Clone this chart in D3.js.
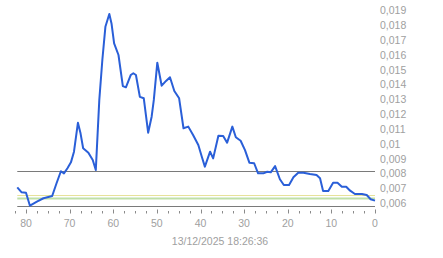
<!DOCTYPE html>
<html>
<head>
<meta charset="utf-8">
<script src="https://cdn.jsdelivr.net/npm/d3@7"></script>
<style>
  html, body { margin: 0; padding: 0; background: #fff; }
  svg { display: block; }
</style>
</head>
<body>
<div id="chart"></div>
<script>
(function(){
  var width = 443;
  var height = 258;

  // seconds before the timestamp, and the measured value at that moment
  var secondsAgo = [82.0, 81.0, 80.0, 79.1, 77.5, 76.0, 74.0, 73.0, 72.0, 71.3,
    70.5, 69.7, 69.0, 68.1, 67.5, 66.9, 65.7, 64.7, 64.0, 63.2,
    62.5, 61.8, 60.9, 60.4, 59.8, 58.8, 57.8, 57.1, 56.0, 55.4,
    54.8, 53.9, 53.0, 52.0, 51.2, 50.7, 49.9, 48.9, 47.9, 47.0,
    46.0, 44.9, 43.9, 42.8, 41.7, 40.5, 39.7, 39.0, 37.8, 37.1,
    35.9, 34.8, 33.9, 32.7, 31.9, 30.8, 29.8, 28.8, 27.7, 26.8,
    25.6, 24.7, 23.9, 22.9, 21.8, 20.9, 19.7, 18.7, 17.6, 16.4,
    14.9, 13.4, 12.6, 11.9, 10.7, 9.6, 8.6, 7.6, 6.6, 5.7,
    4.6, 3.0, 1.9, 1.0, 0.0];
  var values = [0.00708, 0.00674, 0.00671, 0.00584, 0.00611, 0.00634, 0.00649, 0.00735, 0.00816, 0.00802,
    0.00836, 0.00876, 0.00948, 0.01143, 0.01072, 0.00971, 0.00941, 0.00892, 0.00824, 0.01296,
    0.01566, 0.0179, 0.01876, 0.01813, 0.01678, 0.016, 0.0139, 0.01382, 0.01465, 0.01477,
    0.01465, 0.01318, 0.01308, 0.01076, 0.01184, 0.01297, 0.01548, 0.01393, 0.01425, 0.0145,
    0.01357, 0.01308, 0.01106, 0.01117, 0.0106, 0.00993, 0.00914, 0.00847, 0.00948, 0.00903,
    0.01056, 0.01054, 0.01009, 0.01117, 0.01045, 0.01022, 0.00959, 0.00874, 0.0087, 0.00802,
    0.00802, 0.00813, 0.00809, 0.00851, 0.00762, 0.00723, 0.00723, 0.00775, 0.00806, 0.00806,
    0.00797, 0.00791, 0.00769, 0.00683, 0.00683, 0.00739, 0.00739, 0.00712, 0.00712, 0.00685,
    0.00663, 0.00663, 0.00656, 0.00627, 0.00618];

  // reference levels drawn across the plot
  var levelValues = [0.00821, 0.00656, 0.00639, 0.00585];
  var levelColors = ['#7a7a7a', '#e6e29a', '#bfe0a8', '#7a7a7a'];
  var levelWidths = [1, 1, 2, 1];

  var yTickValues = [0.006, 0.007, 0.008, 0.009, 0.010, 0.011, 0.012, 0.013,
    0.014, 0.015, 0.016, 0.017, 0.018, 0.019];
  var yTickLabels = ['0,006', '0,007', '0,008', '0,009', '0,01', '0,011', '0,012', '0,013',
    '0,014', '0,015', '0,016', '0,017', '0,018', '0,019'];
  var xTickValues = [80, 70, 60, 50, 40, 30, 20, 10, 0];
  var xMinorTicks = d3.range(0, 83, 2.5);
  var timestamp = '13/12/2025 18:26:36';

  var x = d3.scaleLinear().domain([0, 80]).range([375, 26]);
  var y = d3.scaleLinear().domain([0.006, 0.019]).range([203.3, 10.5]);

  var svg = d3.select('#chart').append('svg')
                .attr('width', width)
                .attr('height', height);

  var font = '"Liberation Sans", Arial, sans-serif';

  // horizontal level lines
  svg.selectAll('line.level')
      .data(levelValues)
      .enter()
      .append('line')
        .attr('class', 'level')
        .attr('x1', x(82))
        .attr('x2', x(0))
        .attr('y1', function(d){ return Math.round(y(d)) + 0.5; })
        .attr('y2', function(d){ return Math.round(y(d)) + 0.5; })
        .attr('stroke', function(d, i){ return levelColors[i]; })
        .attr('stroke-width', function(d, i){ return levelWidths[i]; });

  // the series
  var line = d3.line()
      .x(function(d, i){ return x(secondsAgo[i]); })
      .y(function(d){ return y(d); });

  svg.append('path')
      .datum(values)
      .attr('d', line)
      .attr('fill', 'none')
      .attr('stroke', '#2a5fd8')
      .attr('stroke-width', 2)
      .attr('stroke-linejoin', 'round');

  // x ticks
  svg.selectAll('line.minor')
      .data(xMinorTicks)
      .enter()
      .append('line')
        .attr('class', 'minor')
        .attr('x1', function(d){ return Math.round(x(d)) + 0.5; })
        .attr('x2', function(d){ return Math.round(x(d)) + 0.5; })
        .attr('y1', function(d){ return d % 10 === 0 ? 209.5 : 211; })
        .attr('y2', 213.5)
        .attr('stroke', '#8a8a8a')
        .attr('stroke-width', 1);

  svg.selectAll('text.xlabel')
      .data(xTickValues)
      .enter()
      .append('text')
        .attr('class', 'xlabel')
        .text(function(d){ return d; })
        .attr('x', function(d){ return x(d); })
        .attr('y', 226.5)
        .attr('text-anchor', 'middle')
        .attr('font-family', font)
        .attr('font-size', '10.5px')
        .attr('fill', '#a0a0a0');

  // y labels on the right
  svg.selectAll('text.ylabel')
      .data(yTickValues)
      .enter()
      .append('text')
        .attr('class', 'ylabel')
        .text(function(d, i){ return yTickLabels[i]; })
        .attr('x', 380)
        .attr('y', function(d){ return y(d) + 3.8; })
        .attr('font-family', font)
        .attr('font-size', '10.5px')
        .attr('fill', '#a0a0a0');

  svg.append('text')
      .text(timestamp)
      .attr('x', 220)
      .attr('y', 245)
      .attr('text-anchor', 'middle')
      .attr('font-family', font)
      .attr('font-size', '10.5px')
      .attr('fill', '#a0a0a0');
})();
</script>
</body>
</html>
